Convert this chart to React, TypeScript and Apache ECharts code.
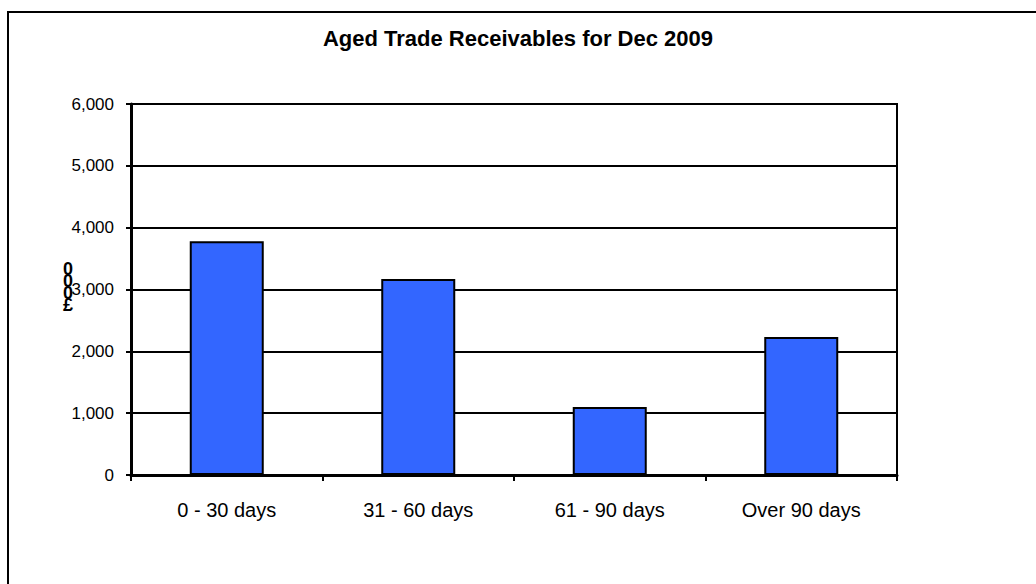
import React, { useEffect, useRef } from "react";
import * as echarts from "echarts";

const categories = ["0 - 30 days", "31 - 60 days", "61 - 90 days", "Over 90 days"];
const receivables = [3780, 3170, 1100, 2230];
const titleText = "Aged Trade Receivables for Dec 2009";
const yAxisName = "0\n0\n0\n£";

export default function App() {
  const ref = useRef<HTMLDivElement>(null);
  useEffect(() => {
    if (!ref.current) return;
    const chart = echarts.init(ref.current, null, { renderer: "svg" });
    chart.setOption({
      animation: false,
      backgroundColor: "#fff",
      title: {
        text: titleText,
        left: "center",
        top: 22,
        textStyle: { fontFamily: "Liberation Sans, Arial", fontWeight: "bold", fontSize: 22, color: "#000" },
      },
      grid: {
        left: 131,
        right: 139,
        top: 104,
        bottom: 109,
        show: true,
        borderColor: "#000",
        borderWidth: 2,
        backgroundColor: "#fff",
      },
      xAxis: {
        type: "category",
        data: categories,
        axisLine: { lineStyle: { color: "#000", width: 3 } },
        axisTick: { show: true, length: 6, lineStyle: { color: "#000", width: 2 } },
        axisLabel: {
          color: "#000",
          fontFamily: "Liberation Sans, Arial",
          fontSize: 20,
          margin: 25,
        },
      },
      yAxis: {
        type: "value",
        min: 0,
        max: 6000,
        interval: 1000,
        axisLine: { show: true, lineStyle: { color: "#000", width: 3 } },
        axisTick: { show: true, length: 5, lineStyle: { color: "#000", width: 2 } },
        splitLine: { show: true, lineStyle: { color: "#000", width: 2 } },
        axisLabel: {
          color: "#000",
          fontFamily: "Liberation Sans, Arial",
          fontSize: 17,
          margin: 17,
          formatter: (v: number) => v.toLocaleString("en-US"),
        },
      },
      series: [
        {
          type: "bar",
          data: receivables,
          barWidth: 74,
          itemStyle: { color: "#3366FF", borderColor: "#000", borderWidth: 2 },
        },
      ],
      graphic: [
        {
          type: "rect",
          shape: { x: 8, y: 12, width: 1200, height: 800 },
          style: { fill: "none", stroke: "#000", lineWidth: 2 },
          silent: true,
        },
        {
          type: "text",
          x: 68,
          y: 263,
          style: {
            text: yAxisName,
            fontFamily: "Liberation Sans, Arial",
            fontWeight: "bold",
            fontSize: 18,
            lineHeight: 12,
            fill: "#000",
            align: "center",
          },
        },
      ],
    });
    return () => chart.dispose();
  }, []);
  return (
    <div
      ref={ref}
      style={{ position: "absolute", left: 0, top: 0, width: 1036, height: 584 }}
    />
  );
}
